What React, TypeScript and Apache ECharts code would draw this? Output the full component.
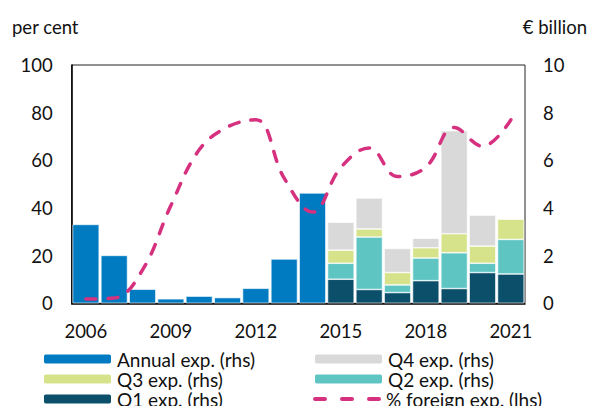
import React, { useEffect, useRef } from "react";
import * as echarts from "echarts";

const years = ["2006","2007","2008","2009","2010","2011","2012","2013","2014","2015","2016","2017","2018","2019","2020","2021"];
const annualExp = [3.31, 2.01, 0.59, 0.19, 0.3, 0.24, 0.63, 1.86, 4.63, null, null, null, null, null, null, null];
const q1Exp = [null, null, null, null, null, null, null, null, null, 1.01, 0.58, 0.45, 0.95, 0.62, 1.29, 1.23];
const q2Exp = [null, null, null, null, null, null, null, null, null, 0.67, 2.2, 0.32, 0.95, 1.5, 0.39, 1.45];
const q3Exp = [null, null, null, null, null, null, null, null, null, 0.55, 0.34, 0.52, 0.43, 0.8, 0.72, 0.85];
const q4Exp = [null, null, null, null, null, null, null, null, null, 1.17, 1.3, 1.01, 0.4, 4.32, 1.3, null];
const foreignPct = [1.8, 2.2, 14, 41, 64.4, 74, 77, 52.5, 38.3, 57, 65.2, 53.2, 57.1, 73.8, 65.9, 77];

const FONT = "Lato";
const TXT = "#111";
const FS = 18.5;
const PINK = "#d6317f";

export default function App() {
  const ref = useRef<HTMLDivElement>(null);
  useEffect(() => {
    if (!ref.current) return;
    const chart = echarts.init(ref.current, null, { renderer: "svg" });
    const barBase = {
      type: "bar",
      stack: "all",
      yAxisIndex: 1,
      barCategoryGap: "6%",
      itemStyle: { borderColor: "#ffffff", borderWidth: 0.6 },
    };
    const legendText = { fontFamily: FONT, fontSize: 19, color: TXT, lineHeight: 19 };
    const mkLegend = (name: string, left: number, top: number, extra: any = {}) => ({
      data: [name],
      left,
      top,
      padding: 0,
      itemWidth: 69,
      itemHeight: 11,
      itemGap: 5,
      textStyle: legendText,
      selectedMode: false,
      ...extra,
    });
    chart.setOption({
      animation: false,
      textStyle: { fontFamily: FONT },
      grid: { left: 71.7, right: 64, top: 65, bottom: 102.7, show: true, borderColor: "#222", borderWidth: 1 },
      legend: [
        mkLegend("Annual exp. (rhs)", 42, 349.5),
        mkLegend("Q4 exp. (rhs)", 313, 349.5),
        mkLegend("Q3 exp. (rhs)", 42, 369.5),
        mkLegend("Q2 exp. (rhs)", 313, 369.5),
        mkLegend("Q1 exp. (rhs)", 42, 389.5),
        mkLegend("% foreign exp. (lhs)", 313, 389.5, {
          icon: "path://M2,0h10a2,2 0 0 1 0,4h-10a2,2 0 0 1 0,-4z M29,0h10a2,2 0 0 1 0,4h-10a2,2 0 0 1 0,-4z M56,0h10a2,2 0 0 1 0,4h-10a2,2 0 0 1 0,-4z",
          itemWidth: 68,
          itemHeight: 4,
          itemStyle: { color: PINK },
        }),
      ],
      graphic: [
        { type: "text", left: 12, top: 17, style: { text: "per cent", font: `${FS}px ${FONT}`, fill: TXT } },
        { type: "text", right: 2, top: 17, style: { text: "€ billion", font: `${FS}px ${FONT}`, fill: TXT } },
      ],
      xAxis: {
        type: "category",
        data: years,
        axisLine: { lineStyle: { color: "#000", width: 1.5 } },
        axisTick: { show: false },
        axisLabel: {
          interval: 2,
          margin: 18,
          fontFamily: FONT,
          fontSize: FS,
          color: TXT,
        },
      },
      yAxis: [
        {
          type: "value",
          min: 0,
          max: 100,
          interval: 20,
          splitLine: { show: false },
          axisLine: { show: true, lineStyle: { color: "#000", width: 1.5 } },
          axisTick: { show: false },
          axisLabel: { margin: 19, fontFamily: FONT, fontSize: FS, color: TXT },
        },
        {
          type: "value",
          min: 0,
          max: 10,
          interval: 2,
          position: "right",
          splitLine: { show: false },
          axisLine: { show: false },
          axisTick: { show: false },
          axisLabel: { margin: 18, fontFamily: FONT, fontSize: FS, color: TXT },
        },
      ],
      series: [
        { ...barBase, name: "Annual exp. (rhs)", data: annualExp, itemStyle: { ...barBase.itemStyle, color: "#007bc2" } },
        { ...barBase, name: "Q1 exp. (rhs)", data: q1Exp, itemStyle: { ...barBase.itemStyle, color: "#0b4f6b" } },
        { ...barBase, name: "Q2 exp. (rhs)", data: q2Exp, itemStyle: { ...barBase.itemStyle, color: "#5ec5c3" } },
        { ...barBase, name: "Q3 exp. (rhs)", data: q3Exp, itemStyle: { ...barBase.itemStyle, color: "#d6e38b" } },
        { ...barBase, name: "Q4 exp. (rhs)", data: q4Exp, itemStyle: { ...barBase.itemStyle, color: "#d9d9d9" } },
        {
          type: "line",
          name: "% foreign exp. (lhs)",
          yAxisIndex: 0,
          data: foreignPct,
          smooth: 0.4,
          showSymbol: false,
          symbol: "none",
          itemStyle: { color: PINK },
          lineStyle: { color: PINK, width: 3.5, type: [10, 12], cap: "round" },
          z: 5,
        },
      ],
    });
    return () => chart.dispose();
  }, []);
  return <div ref={ref} style={{ width: 589, height: 406, position: "absolute", left: 0, top: 0 }} />;
}
